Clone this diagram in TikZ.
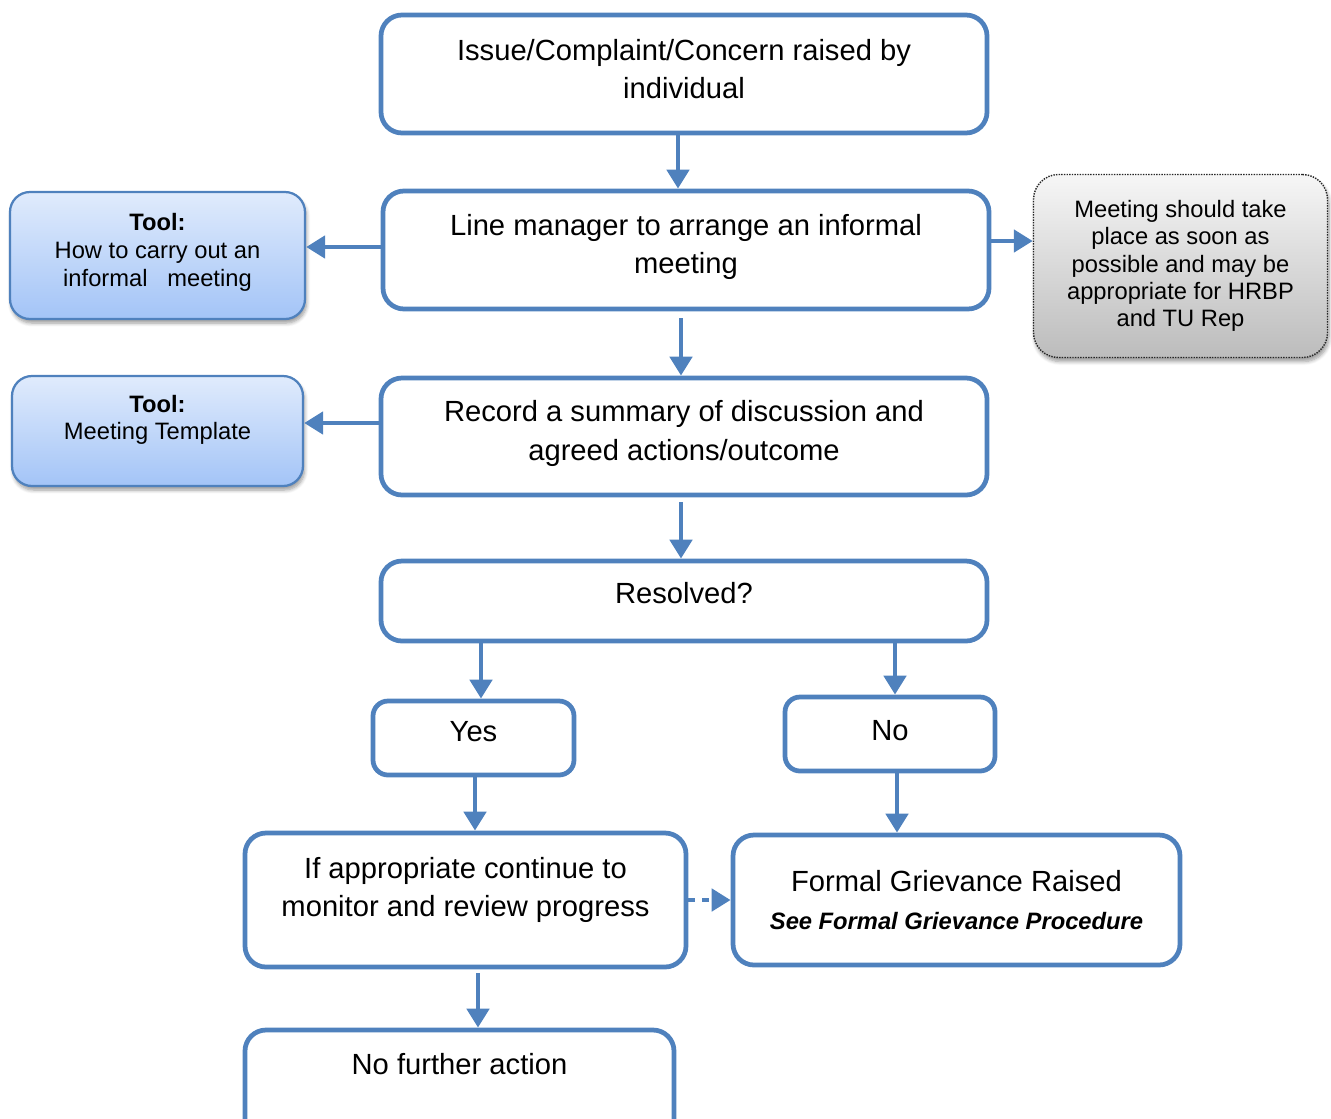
\documentclass[tikz,border=0pt]{standalone}
\usepackage{fontspec}
\setmainfont{Liberation Sans}
\usetikzlibrary{arrows.meta}
\usetikzlibrary{shadows.blur}

\definecolor{lineblue}{RGB}{79,129,189}
\definecolor{toolhi}{RGB}{224,235,252}
\definecolor{toollo}{RGB}{163,196,247}
\definecolor{notehi}{RGB}{246,246,246}
\definecolor{notelo}{RGB}{188,188,188}

\begin{document}
\begin{tikzpicture}[
    box/.style={draw=lineblue, line width=0.095cm, rounded corners=0.42cm, fill=white, align=center, font=\fontsize{16.6}{22}\selectfont},
    smallbox/.style={box, rounded corners=0.3cm},
    lift/.style={text depth=#1},
    tool/.style={draw=lineblue, line width=0.045cm, rounded corners=0.4cm, top color=toolhi, bottom color=toollo, align=center, font=\fontsize{13.5}{15.8}\selectfont, blur shadow={shadow xshift=0.03cm, shadow yshift=-0.08cm, shadow blur steps=6}},
    note/.style={draw=black!85, line width=0.8pt, dash pattern=on 0.8pt off 0.7pt, rounded corners=0.5cm, top color=notehi, bottom color=notelo, align=center, font=\fontsize{13.5}{15.6}\selectfont, blur shadow={shadow xshift=0.03cm, shadow yshift=-0.08cm, shadow blur steps=6}},
    flow/.style={draw=lineblue, line width=0.095cm, -{Triangle[length=0.38cm, width=0.44cm]}},
]
    \useasboundingbox (0,0) rectangle (26.62,-22.36);
    \clip (0,0) rectangle (26.62,-22.36);

    % main column
    \node[box, lift=0.2cm, minimum width=12.12cm, minimum height=2.36cm] (issue) at (13.68,-1.48) {Issue/Complaint/Concern raised by\\individual};
    \node[box, lift=0.24cm, minimum width=12.12cm, minimum height=2.36cm] (line) at (13.72,-5.00) {Line manager to arrange an informal\\meeting};
    \node[box, lift=0.24cm, minimum width=12.12cm, minimum height=2.34cm] (record) at (13.68,-8.73) {Record a summary of discussion and\\agreed actions/outcome};
    \node[box, minimum width=12.12cm, minimum height=1.60cm, text height=0.45cm, text depth=0.35cm] (resolved) at (13.68,-12.02) {Resolved?};
    \node[smallbox, lift=0.28cm, minimum width=4.02cm, minimum height=1.48cm] (yes) at (9.47,-14.76) {Yes};
    \node[smallbox, lift=0.16cm, minimum width=4.20cm, minimum height=1.48cm] (no) at (17.80,-14.68) {No};
    \node[box, lift=0.52cm, minimum width=8.82cm, minimum height=2.68cm] (monitor) at (9.31,-18.00) {If appropriate continue to\\monitor and review progress};
    \node[box, minimum width=8.94cm, minimum height=2.60cm] (formal) at (19.13,-18.00) {Formal Grievance Raised\\{\fontsize{13.5}{16}\selectfont\bfseries\itshape See Formal Grievance Procedure}};
    \node[box, minimum width=8.58cm, minimum height=2.60cm, text height=0.45cm, text depth=1.27cm] (nofurther) at (9.19,-21.90) {No further action};

    % side boxes
    \node[tool, lift=0.22cm, minimum width=5.90cm, minimum height=2.54cm] (tool1) at (3.15,-5.11) {\textbf{Tool:}\\How to carry out an\\informal\ \ \ meeting};
    \node[tool, lift=0.54cm, minimum width=5.82cm, minimum height=2.20cm] (tool2) at (3.15,-8.62) {\textbf{Tool:}\\Meeting Template};
    \node[note, minimum width=5.88cm, minimum height=3.66cm] (advice) at (23.61,-5.32) {Meeting should take\\place as soon as\\possible and may be\\appropriate for HRBP\\and TU Rep};

    % connectors
    \draw[flow] ([xshift=-0.12cm]issue.south) -- ([xshift=-0.12cm]issue.south |- line.north);
    \draw[flow] ([xshift=-0.1cm,yshift=-0.14cm]line.south) -- ([xshift=-0.1cm]line.south |- record.north);
    \draw[flow] ([xshift=-0.06cm,yshift=-0.1cm]record.south) -- ([xshift=-0.06cm]record.south |- resolved.north);
    \draw[flow] ([xshift=0.15cm]yes.north |- resolved.south) -- ([xshift=0.15cm]yes.north);
    \draw[flow] ([xshift=0.1cm,yshift=0.08cm]no.north |- resolved.south) -- ([xshift=0.1cm]no.north);
    \draw[flow] ([xshift=0.03cm]yes.south) -- ([xshift=0.03cm]yes.south |- monitor.north);
    \draw[flow] ([xshift=0.14cm]no.south) -- ([xshift=0.14cm]no.south |- formal.north);
    \draw[flow] ([xshift=0.25cm,yshift=-0.08cm]monitor.south) -- ([xshift=0.25cm]monitor.south |- nofurther.north);
    \draw[flow] ([yshift=0.06cm]line.west) -- ([yshift=0.06cm]line.west -| tool1.east);
    \draw[flow] ([yshift=0.27cm]record.west) -- ([yshift=0.27cm]record.west -| tool2.east);
    \draw[flow] ([yshift=0.18cm]line.east) -- ([yshift=0.18cm]line.east -| advice.west);
    \draw[flow, dash pattern=on 0.14cm off 0.14cm] (monitor.east) -- (formal.west);
\end{tikzpicture}
\end{document}
